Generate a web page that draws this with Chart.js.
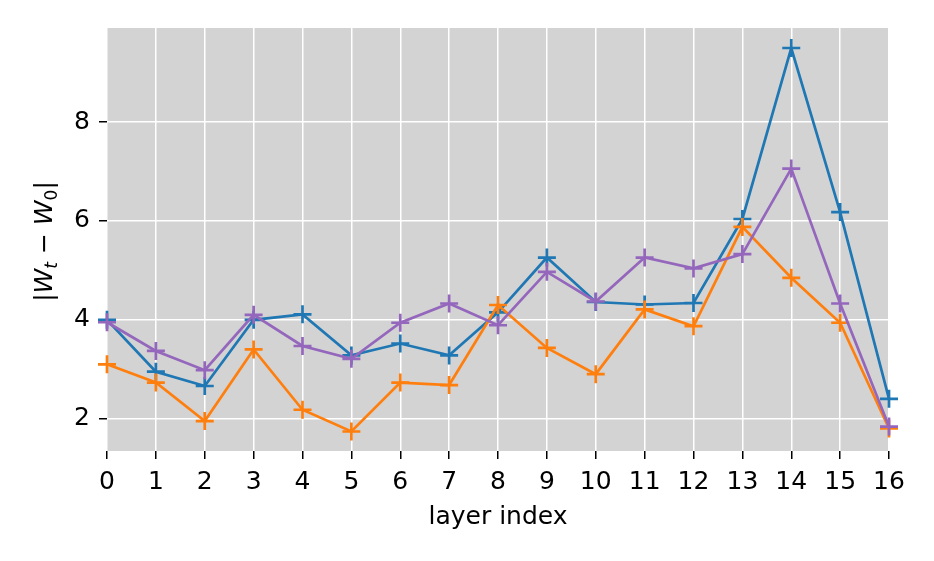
<!DOCTYPE html>
<html>
<head>
<meta charset="utf-8">
<script src="https://cdn.jsdelivr.net/npm/chart.js@4"></script>
<style>
  html, body { margin: 0; padding: 0; background: #fff; }
  #wrap { width: 934px; height: 561px; }
</style>
</head>
<body>
<div id="wrap"><canvas id="chart" width="934" height="561"></canvas></div>
<script>
// layer indices on the x axis
const layers = ['0','1','2','3','4','5','6','7','8','9','10','11','12','13','14','15','16'];
// |W_t - W_0| per layer, one array per run
const blueVals   = [4.00, 2.95, 2.66, 4.00, 4.11, 3.28, 3.52, 3.28, 4.15, 5.26, 4.36, 4.31, 4.34, 6.04, 9.50, 6.18, 2.40];
const orangeVals = [3.10, 2.73, 1.95, 3.40, 2.18, 1.74, 2.73, 2.68, 4.30, 3.43, 2.90, 4.21, 3.87, 5.88, 4.85, 3.94, 1.80];
const purpleVals = [3.95, 3.37, 2.98, 4.10, 3.47, 3.21, 3.94, 4.33, 3.89, 4.97, 4.37, 5.26, 5.04, 5.33, 7.06, 4.33, 1.84];
const yTicks = [2, 4, 6, 8];

const FONT = 'DejaVu Sans';

// grey plot background, drawn under the grid
const bgPlugin = {
  id: 'bg',
  beforeDraw(chart) {
    const a = chart.chartArea, c = chart.ctx;
    c.save();
    c.fillStyle = '#d3d3d3';
    c.fillRect(a.left, a.top, a.right - a.left, a.bottom - a.top);
    c.restore();
  }
};

// axis titles, y one has subscripts so draw it by hand
const titlePlugin = {
  id: 'titles',
  afterDraw(chart) {
    const a = chart.chartArea, c = chart.ctx;
    c.save();
    c.fillStyle = '#000';
    c.textBaseline = 'alphabetic';
    c.font = '25px "' + FONT + '"';
    c.textAlign = 'center';
    c.fillText('layer index', (a.left + a.right) / 2, 524);

    // |W_t − W_0|
    const parts = [
      ['|', '25px', 0],
      ['W', 'italic 25px', 0],
      ['t', 'italic 17px', 5],
      [' \u2212 ', '25px', 0],
      ['W', 'italic 25px', 0],
      ['0', '17px', 5],
      ['|', '25px', 0]
    ];
    let total = 0;
    parts.forEach(p => { c.font = p[1] + ' "' + FONT + '"'; total += c.measureText(p[0]).width; });
    c.translate(52, (a.top + a.bottom) / 2 + 2);
    c.rotate(-Math.PI / 2);
    c.textAlign = 'left';
    let x = -total / 2;
    parts.forEach(p => {
      c.font = p[1] + ' "' + FONT + '"';
      c.fillText(p[0], x, p[2]);
      x += c.measureText(p[0]).width;
    });
    c.restore();
  }
};

function series(data, color, order) {
  return {
    data: data,
    borderColor: color,
    backgroundColor: color,
    borderWidth: 2.7,
    pointStyle: 'cross',
    pointRadius: 9,
    pointBorderWidth: 2.7,
    pointHoverRadius: 9,
    fill: false,
    tension: 0,
    order: order
  };
}

new Chart(document.getElementById('chart'), {
  type: 'line',
  data: {
    labels: layers,
    datasets: [
      series(blueVals, '#1f77b4', 3),
      series(orangeVals, '#ff7f0e', 2),
      series(purpleVals, '#9467bd', 1)
    ]
  },
  options: {
    responsive: false,
    animation: false,
    events: [],
    layout: { padding: { top: 28, right: 45, left: 0, bottom: 0 } },
    plugins: { legend: { display: false }, tooltip: { enabled: false } },
    scales: {
      x: {
        type: 'category',
        offset: false,
        border: { display: false },
        grid: { color: '#ffffff', lineWidth: 1.5, tickColor: '#000', tickLength: 8, tickWidth: 1.5 },
        ticks: { color: '#000', font: { family: FONT, size: 25 }, padding: 8, maxRotation: 0, autoSkip: false },
        afterFit(s) { s.height = 110; }
      },
      y: {
        min: 1.345,
        max: 9.905,
        border: { display: false },
        grid: { color: '#ffffff', lineWidth: 1.5, tickColor: '#000', tickLength: 8, tickWidth: 1.5 },
        ticks: { color: '#000', font: { family: FONT, size: 25 }, padding: 9 },
        afterBuildTicks(s) { s.ticks = yTicks.map(v => ({ value: v })); },
        afterFit(s) { s.width = 107; }
      }
    }
  },
  plugins: [bgPlugin, titlePlugin]
});
</script>
</body>
</html>
